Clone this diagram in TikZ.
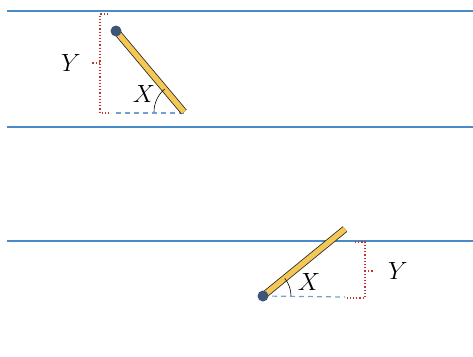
\documentclass[tikz,border=0pt]{standalone}
\usepackage{amsmath}
\usepackage{amssymb}
\usepackage{tikz}
\definecolor{waterblue}{RGB}{70,140,200}
\definecolor{rodyellow}{RGB}{245,200,85}
\definecolor{pivotblue}{RGB}{60,85,120}
\definecolor{baseblue}{RGB}{115,160,210}
\definecolor{markred}{RGB}{200,50,45}

\begin{document}
\begin{tikzpicture}[x=1pt,y=-1pt,
    surface/.style={draw=waterblue, line width=1.6pt},
    rod/.style={double=rodyellow, double distance=5.4pt, line width=0.8pt, draw=black!85},
    pivot/.style={circle, fill=pivotblue, inner sep=0pt, minimum size=11pt},
    baseline/.style={draw=baseblue, line width=1.2pt, dash pattern=on 5pt off 4pt},
    bracket/.style={draw=markred, line width=1.2pt, dotted},
    lbl/.style={font=\fontsize{27}{29}\selectfont}]
            \useasboundingbox (0,0) rectangle (473,356);
            % water lines
            \coordinate (s1a) at (7,11);   \coordinate (s1b) at (473,11);
            \coordinate (s2a) at (7,127);  \coordinate (s2b) at (473,127);
            \coordinate (s3a) at (7,241);  \coordinate (s3b) at (473,241);
            \draw[surface] (s1a) -- (s1b);
            \draw[surface] (s2a) -- (s2b);
            \draw[surface] (s3a) -- (s3b);
            % upper rod
            \coordinate (c1) at (116,31);
            \coordinate (e1) at (184,112);
            \coordinate (b1) at (116,113);
            \draw[baseline] (b1) -- (e1 |- b1);
            \draw[rod] (c1) -- (e1);
            \node[pivot] (p1) at (c1) {};
            \draw[black, line width=0.6pt] (e1) ++(180:30) arc (180:230:30);
            \draw[bracket] (108,14) -- (100,14) -- (100,113) -- (111,113);
            \draw[bracket] (100,63) -- (92,63);
            \node[lbl] (y1) at (71,63) {$Y$};
            \node[lbl] (x1) at (144,94) {$X$};
            % lower rod
            \coordinate (c2) at (263,296);
            \coordinate (e2) at (345,229);
            \coordinate (b2) at (345,297);
            \draw[baseline] (c2) -- (b2);
            \draw[rod] (c2) -- (e2);
            \node[pivot] (p2) at (c2) {};
            \draw[black, line width=0.6pt] (c2) ++(0:28) arc (0:-39:28);
            \draw[bracket] (355,242) -- (365,242) -- (365,298) -- (345,298);
            \draw[bracket] (365,271) -- (373,271);
            \node[lbl] (y2) at (398,271) {$Y$};
            \node[lbl] (x2) at (309,282) {$X$};
        \end{tikzpicture}
\end{document}
